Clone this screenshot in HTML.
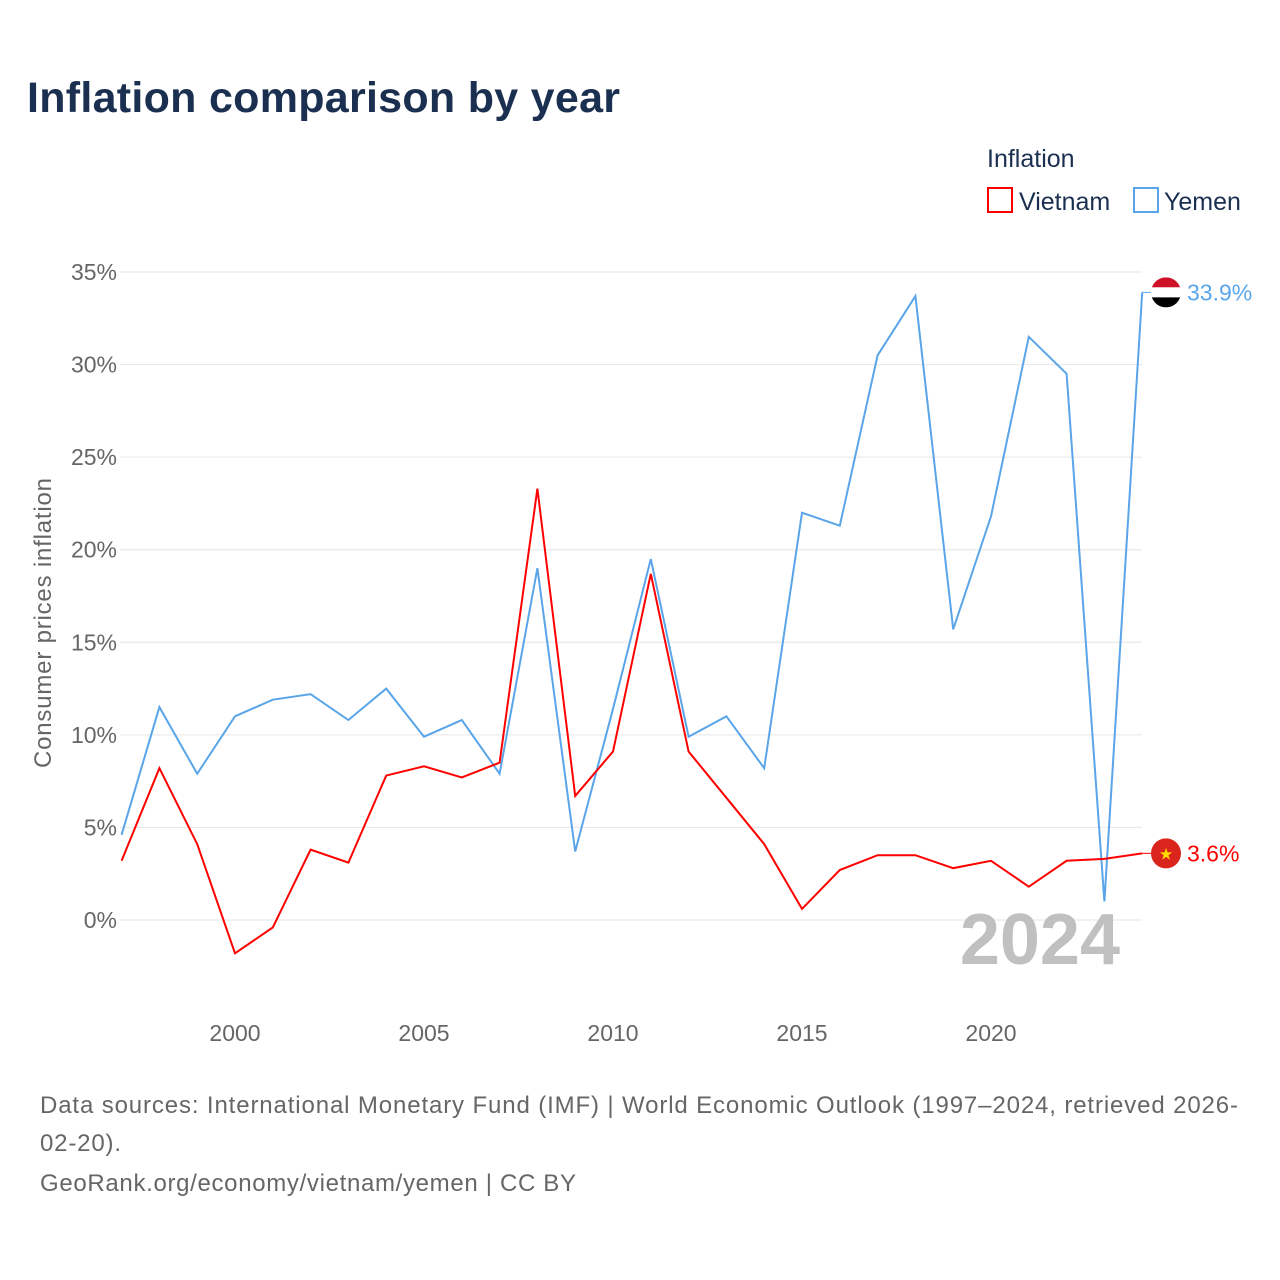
<!DOCTYPE html>
<html><head><meta charset="utf-8"><style>
body{margin:0;background:#fff;font-family:"Liberation Sans",sans-serif;}
#wrap{position:relative;width:1280px;height:1280px;overflow:hidden;}
</style></head><body>
<div id="wrap">
<svg id="chart" width="1280" height="1280" style="position:absolute;left:0;top:0">
<text x="27" y="112" font-size="43" font-weight="bold" fill="#1b3050" textLength="593">Inflation comparison by year</text>
<text x="987" y="167" font-size="25" fill="#1b3050">Inflation</text>
<g><rect x="988" y="188" width="24" height="24" fill="none" stroke="#ff0000" stroke-width="2"/><text x="1019" y="210" font-size="25" fill="#1b3050">Vietnam</text></g>
<g><rect x="1134" y="188" width="24" height="24" fill="none" stroke="#5aa5ea" stroke-width="2"/><text x="1164" y="210" font-size="25" fill="#1b3050">Yemen</text></g>
<text transform="translate(51,623) rotate(-90)" text-anchor="middle" font-size="24" fill="#666" textLength="290">Consumer prices inflation</text>
<g id="grid"></g><g id="yticks"></g><g id="xticks"></g>
<text x="1120" y="964" text-anchor="end" font-size="72" font-weight="bold" fill="#c0c0c0">2024</text>
<g id="series"></g>
<text x="40" y="1113" font-size="24" fill="#666" textLength="1198">Data sources: International Monetary Fund (IMF) | World Economic Outlook (1997–2024, retrieved 2026-</text>
<text x="40" y="1151" font-size="24" fill="#666" textLength="81">02-20).</text>
<text x="40" y="1191" font-size="24" fill="#666" textLength="536">GeoRank.org/economy/vietnam/yemen | CC BY</text>
</svg>
</div>
<script>
const years=[1997,1998,1999,2000,2001,2002,2003,2004,2005,2006,2007,2008,2009,2010,2011,2012,2013,2014,2015,2016,2017,2018,2019,2020,2021,2022,2023,2024];
const vietnam=[3.2,8.2,4.1,-1.8,-0.4,3.8,3.1,7.8,8.3,7.7,8.5,23.3,6.7,9.1,18.7,9.1,6.6,4.1,0.6,2.7,3.5,3.5,2.8,3.2,1.8,3.2,3.3,3.6];
const yemen=[4.6,11.5,7.9,11.0,11.9,12.2,10.8,12.5,9.9,10.8,7.9,19.0,3.7,11.4,19.5,9.9,11.0,8.2,22.0,21.3,30.5,33.7,15.7,21.8,31.5,29.5,1.0,33.9];
const yTicks=[0,5,10,15,20,25,30,35];
const xTicks=[2000,2005,2010,2015,2020];
const NS="http://www.w3.org/2000/svg";
const x=v=>235+(v-2000)*37.8;
const y=v=>920-v*18.514;
function mk(tag,attrs,parent){const e=document.createElementNS(NS,tag);for(const k in attrs)e.setAttribute(k,attrs[k]);parent.appendChild(e);return e;}
const grid=document.getElementById('grid'),yt=document.getElementById('yticks'),xt=document.getElementById('xticks'),ser=document.getElementById('series');
yTicks.forEach(t=>{
 const l=mk('line',{x1:120,x2:1142,y1:y(t),y2:y(t),stroke:'#e6e6e6','stroke-width':1},grid);
 
 
 const tx=mk('text',{x:117,y:y(t)+8,'text-anchor':'end','font-size':23,fill:'#666'},yt);
 tx.textContent=t+'%';
 
 
});
xTicks.forEach(t=>{
 const tx=mk('text',{x:x(t),y:1041,'text-anchor':'middle','font-size':23,fill:'#666'},xt);
 tx.textContent=t;
 
 
});
function line(data,color,name){
 const p=mk('polyline',{points:data.map((v,i)=>x(years[i])+','+y(v)).join(' '),fill:'none',stroke:color,'stroke-width':2},ser);
 
 
}
line(yemen,'#5aa5ea','yemen-line');
line(vietnam,'#ff0000','vietnam-line');
const last=years.length-1;
const yy=y(yemen[last]);
mk('line',{x1:x(years[last]),x2:1152,y1:yy,y2:yy,stroke:'#5aa5ea','stroke-width':1},ser);
const yf=mk('g',{},ser);


const cp=mk('clipPath',{id:'cy'},yf);
mk('circle',{cx:1166,cy:yy,r:15},cp);
const gy=mk('g',{'clip-path':'url(#cy)'},yf);
mk('rect',{x:1151,y:yy-15,width:30,height:10,fill:'#ce1126'},gy);
mk('rect',{x:1151,y:yy-5,width:30,height:10,fill:'#fff'},gy);
mk('rect',{x:1151,y:yy+5,width:30,height:10,fill:'#000'},gy);
const yl=mk('text',{x:1187,y:yy+8,'font-size':23,fill:'#5aa5ea'},ser);
yl.textContent=yemen[last].toFixed(1)+'%';


const vy=y(vietnam[last]);
mk('line',{x1:x(years[last]),x2:1152,y1:vy,y2:vy,stroke:'#ff0000','stroke-width':1},ser);
const vf=mk('g',{},ser);


mk('circle',{cx:1166,cy:vy,r:15,fill:'#da251d'},vf);
const st=mk('text',{x:1166,y:vy+6,'text-anchor':'middle','font-size':16,fill:'#ffdd00'},vf);
st.textContent='★';
const vl=mk('text',{x:1187,y:vy+8,'font-size':23,fill:'#ff0000'},ser);
vl.textContent=vietnam[last].toFixed(1)+'%';


</script>
</body></html>
